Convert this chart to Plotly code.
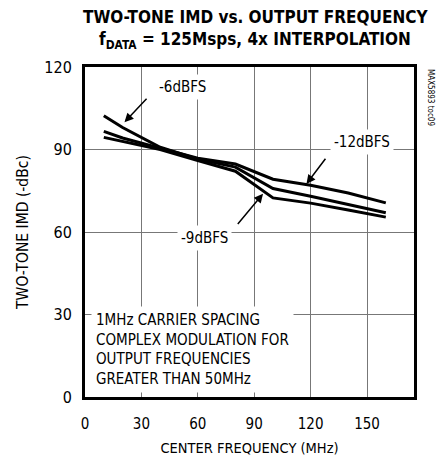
import plotly.graph_objects as go

freq = [10, 20, 40, 60, 80, 100, 120, 140, 160]
imd_6dbfs = [102.3, 98.0, 90.8, 86.5, 83.6, 75.8, 73.0, 70.0, 67.0]
imd_9dbfs = [94.4, 93.0, 90.0, 86.0, 82.1, 72.4, 70.5, 68.0, 65.4]
imd_12dbfs = [96.6, 94.2, 90.5, 86.8, 84.7, 79.2, 77.0, 74.2, 70.6]

x_ticks = [0, 30, 60, 90, 120, 150]
y_ticks = [0, 30, 60, 90, 120]

FONT = "DejaVu Sans Condensed, Liberation Sans Narrow, sans-serif"

fig = go.Figure()
for ys in (imd_12dbfs, imd_9dbfs, imd_6dbfs):
    fig.add_trace(go.Scatter(x=freq, y=ys, mode="lines",
                             line=dict(color="black", width=3),
                             showlegend=False, hoverinfo="skip"))

def arrow_label(text, lx, ly, tx, ty, hx, hy):
    fig.add_annotation(x=hx, y=hy, ax=tx, ay=ty, xref="x", yref="y",
                       axref="x", ayref="y", text="", showarrow=True,
                       arrowhead=2, arrowsize=1.2, arrowwidth=1.5,
                       arrowcolor="black")
    fig.add_annotation(x=lx, y=ly, xref="x", yref="y", text=text,
                       showarrow=False, bgcolor="white", borderpad=3,
                       font=dict(family=FONT, size=15, color="black"))

arrow_label("-6dBFS", 52, 112.6, 33.5, 109, 21, 99.9)
arrow_label("-12dBFS", 147.5, 92.6, 128.5, 87.2, 117.8, 77.5)
arrow_label("-9dBFS", 63.7, 57.7, 80.6, 62.4, 94.7, 73.9)

fig.add_annotation(x=0, y=0, xref="x", yref="y", xanchor="left", yanchor="bottom",
                   text="1MHz CARRIER SPACING<br>COMPLEX MODULATION FOR<br>OUTPUT FREQUENCIES<br>GREATER THAN 50MHz",
                   align="left", showarrow=False, bgcolor="white", borderpad=4,
                   xshift=6, yshift=4,
                   font=dict(family=FONT, size=15, color="black"))

fig.add_annotation(x=1.0, y=1.0, xref="paper", yref="paper", xanchor="left", yanchor="top",
                   text="MAX5893 toc09", textangle=90, showarrow=False, xshift=10,
                   font=dict(family=FONT, size=8, color="black"))

for txt, shift in (("<b>TWO-TONE IMD vs. OUTPUT FREQUENCY</b>", 50),
                   ("<b>f<sub>DATA</sub> = 125Msps, 4x INTERPOLATION</b>", 27)):
    fig.add_annotation(x=0.517, y=1.0, xref="paper", yref="paper", xanchor="center",
                       yanchor="middle", yshift=shift, text=txt, showarrow=False,
                       font=dict(family=FONT, size=17, color="black"))

fig.update_layout(
    width=445, height=456,
    margin=dict(l=85, r=31, t=67, b=59),
    paper_bgcolor="white", plot_bgcolor="white",
    font=dict(family=FONT, size=15, color="black"),
)
fig.update_xaxes(range=[0, 175], tickvals=x_ticks, showgrid=True, gridcolor="#777777",
                 gridwidth=1, showline=True, linecolor="black", linewidth=3, mirror=True,
                 zeroline=False, ticks="", ticklabelstandoff=11, automargin=False,
                 title=dict(text="CENTER FREQUENCY (MHz)", standoff=14,
                            font=dict(family=FONT, size=14.5, color="black")),
                 tickfont=dict(family=FONT, size=15, color="black"))
fig.update_yaxes(range=[0, 120], tickvals=y_ticks, showgrid=True, gridcolor="#777777",
                 gridwidth=1, showline=True, linecolor="black", linewidth=3, mirror=True,
                 zeroline=False, ticks="", ticklabelstandoff=7, automargin=False,
                 title=dict(text="TWO-TONE IMD (-dBc)", standoff=12,
                            font=dict(family=FONT, size=15.5, color="black")),
                 tickfont=dict(family=FONT, size=16, color="black"))

fig.write_html("out.html")
